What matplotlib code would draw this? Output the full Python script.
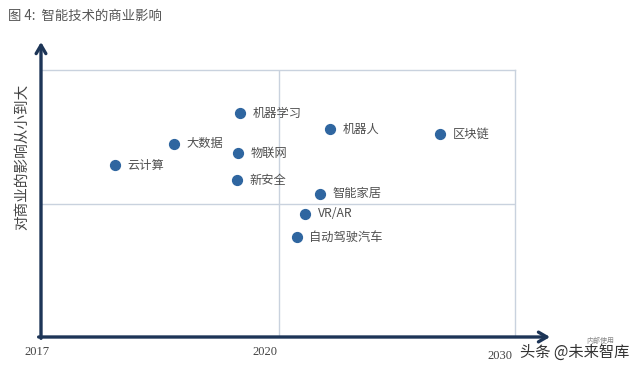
import matplotlib.pyplot as plt

plt.rcParams['font.family'] = ['Noto Sans CJK SC', 'DejaVu Sans']

# 技术名称 / 位置 (时间轴 0-10, 商业影响 0-10)
names = ['云计算', '大数据', '机器学习', '物联网', '新安全',
         '机器人', '区块链', '智能家居', 'VR/AR', '自动驾驶汽车']
time_pos = [1.56, 2.81, 4.20, 4.16, 4.14, 6.10, 8.42, 5.89, 5.57, 5.40]
impact = [6.44, 7.23, 8.39, 6.89, 5.88, 7.79, 7.60, 5.36, 4.61, 3.75]

year_labels = ['2017', '2020', '2030']
year_pos = [-0.08, 4.73, 9.68]

navy = '#1d3557'
dot = '#2f66a0'
grid = '#c9d2de'
txt = '#505050'

fig = plt.figure(figsize=(6.4, 3.69), dpi=100)
ax = fig.add_axes([41 / 640, 32 / 369, 474 / 640, 267 / 369])
ax.set_xlim(0, 10)
ax.set_ylim(0, 10)
ax.set_xticks([])
ax.set_yticks([])
for s in ['left', 'bottom']:
    ax.spines[s].set_visible(False)
for s in ['top', 'right']:
    ax.spines[s].set_color(grid)
    ax.spines[s].set_linewidth(1)

ax.axvline(5.02, color=grid, lw=1)
ax.axhline(4.98, color=grid, lw=1)

# axis arrows
ax.annotate('', xy=(10.74, 0), xytext=(-0.05, 0), annotation_clip=False,
            arrowprops=dict(arrowstyle='->,head_length=0.6,head_width=0.35',
                            color=navy, lw=2.4, shrinkA=0, shrinkB=0))
ax.annotate('', xy=(0, 11.05), xytext=(0, -0.05), annotation_clip=False,
            arrowprops=dict(arrowstyle='->,head_length=0.6,head_width=0.35',
                            color=navy, lw=2.4, shrinkA=0, shrinkB=0))

ax.scatter(time_pos, impact, s=50, color=dot, zorder=3, clip_on=False)
for n, x, y in zip(names, time_pos, impact):
    ax.annotate(n, (x, y), xytext=(9, 0), textcoords='offset points',
                va='center', ha='left', fontsize=8.8, color=txt)

for lab, x in zip(year_labels, year_pos):
    dy = -0.72 if lab == '2030' else -0.56
    ax.text(x, dy, lab, ha='center', va='center', fontsize=9, color='#444444',
            family='Liberation Serif')

fig.text(8 / 640, 1 - 16 / 369, '图 4:  智能技术的商业影响', fontsize=9.6,
         color='#555555', va='center', ha='left')
fig.text(22 / 640, 1 - 157 / 369, '对商业的影响从小到大', rotation=90,
         fontsize=10.5, color='#444444', va='center', ha='center')

fig.text(600 / 640, 1 - 341 / 369, '内部使用', fontsize=5, color='#888888',
         ha='center', va='center')
fig.text(575 / 640, 1 - 352 / 369, '头条 @未来智库', fontsize=11,
         color='#333333', ha='center', va='center')

fig.savefig('out.png', dpi=100)
